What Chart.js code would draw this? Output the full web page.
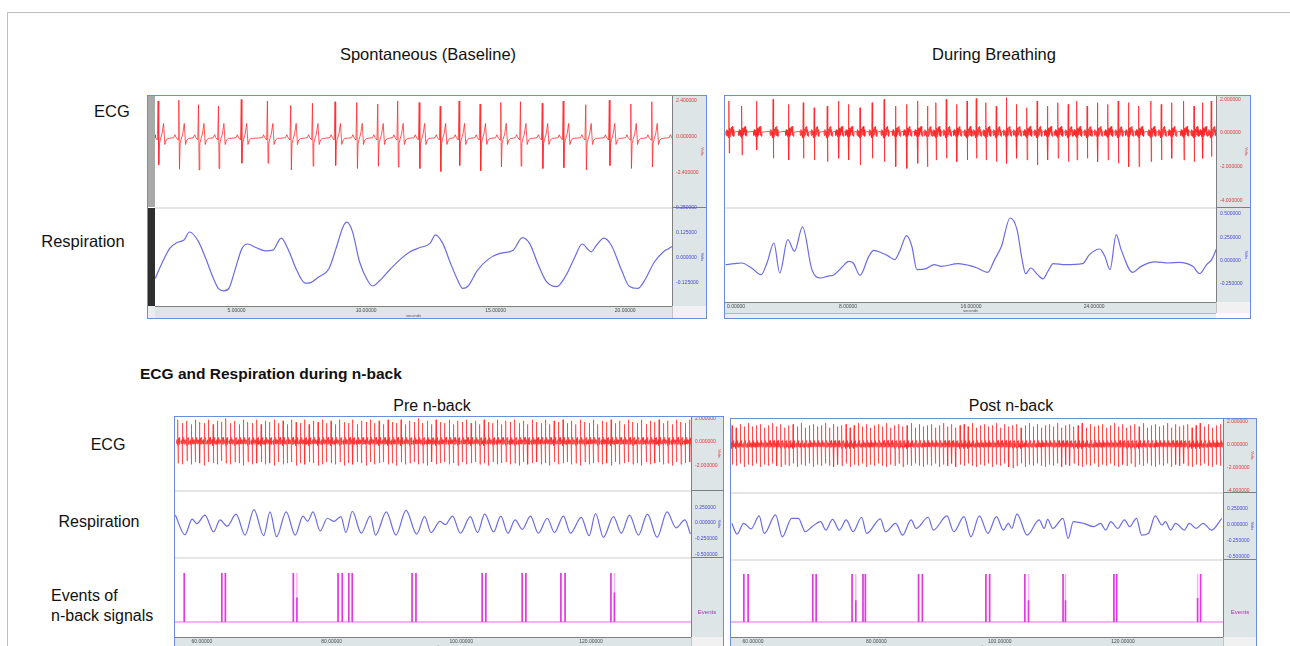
<!DOCTYPE html>
<html><head><meta charset="utf-8">
<script src="https://cdn.jsdelivr.net/npm/chart.js@4.4.1/dist/chart.umd.min.js"></script>
<style>
html,body{margin:0;padding:0}
body{width:1290px;height:646px;overflow:hidden;background:#fff;position:relative;font-family:"Liberation Sans",Arial,sans-serif;color:#111}
.t{position:absolute;white-space:nowrap;line-height:1;font-size:16.5px}
.c{transform:translate(-50%,-50%)}
.l{transform:translate(0,-50%)}
</style></head><body>
<script>
// ================= DATA =================
// --- Spontaneous (Baseline) ---
const spontXTicks=[5,10,15,20];
const spontXLabels=['5.00000','10.00000','15.00000','20.00000'];
const spontEcgTicks=[2.4,0,-2.4];
const spontEcgLabels=['2.400000','0.000000','-2.400000'];
const spontRespTicks=[0.25,0.125,0,-0.125];
const spontRespLabels=['0.250000','0.125000','0.000000','-0.125000'];
// beats: [time s, R amplitude, S amplitude]
const spontBeats=[[1.97,2.40,-1.85],[2.77,2.45,-2.15],[3.53,2.15,-2.20],[4.30,2.05,-2.10],[5.18,2.50,-1.75],[6.19,2.40,-1.75],[7.09,2.10,-2.20],[7.93,2.25,-1.95],[8.80,2.35,-1.90],[9.64,2.30,-2.10],[10.45,2.20,-1.95],[11.22,2.40,-2.00],[12.05,2.30,-2.10],[12.86,2.05,-2.30],[13.59,2.40,-1.90],[14.40,2.20,-2.25],[15.20,2.30,-2.00],[15.96,2.35,-1.95],[16.80,2.25,-2.10],[17.61,2.40,-2.05],[18.48,2.15,-2.20],[19.39,2.45,-1.90],[20.22,2.20,-2.10],[21.03,2.35,-2.00],[21.90,2.30,-2.00]];
const spontResp=[[1.86,-0.102],[2.14,-0.020],[2.42,0.048],[2.70,0.078],[2.97,0.090],[3.18,0.130],[3.53,0.082],[3.81,-0.003],[4.09,-0.097],[4.30,-0.153],[4.51,-0.164],[4.72,-0.148],[4.93,-0.063],[5.21,0.048],[5.42,0.070],[5.77,0.051],[6.12,0.036],[6.40,0.039],[6.72,0.099],[7.03,0.031],[7.30,-0.055],[7.65,-0.126],[7.86,-0.123],[8.14,-0.097],[8.56,-0.055],[8.84,0.048],[9.12,0.159],[9.26,0.179],[9.47,0.133],[9.75,-0.020],[10.03,-0.106],[10.24,-0.140],[10.52,-0.114],[10.94,-0.055],[11.35,-0.003],[11.70,0.031],[12.05,0.051],[12.47,0.073],[12.68,0.116],[12.96,0.073],[13.24,-0.020],[13.52,-0.106],[13.73,-0.152],[13.94,-0.140],[14.29,-0.063],[14.71,-0.007],[15.13,0.022],[15.68,0.039],[16.03,0.102],[16.31,0.073],[16.66,-0.038],[16.94,-0.114],[17.36,-0.143],[17.71,-0.089],[18.06,0.005],[18.34,0.070],[18.69,0.031],[18.90,0.065],[19.18,0.099],[19.46,0.065],[19.87,-0.063],[20.15,-0.140],[20.50,-0.152],[20.78,-0.106],[21.13,-0.020],[21.48,0.031],[21.69,0.048],[21.85,0.060]];

// --- During Breathing ---
const breathXTicks=[0,8,16,24];
const breathXLabels=['                0.00000','8.00000','16.00000','24.00000'];
const breathEcgTicks=[2,0,-2,-4];
const breathEcgLabels=['2.000000','0.000000','-2.000000','-4.000000'];
const breathRespTicks=[0.5,0.25,0,-0.25];
const breathRespLabels=['0.500000','0.250000','0.000000','-0.250000'];
const breathBeats=[[0.26,1.9,-1.2],[1.09,1.6,-1.3],[2.06,1.9,-1.0],[3.13,2.0,-1.5],[4.14,1.7,-1.6],[5.09,1.8,-1.5],[5.80,1.5,-1.6],[6.65,1.6,-1.7],[7.39,1.9,-1.5],[8.04,1.7,-1.6],[8.78,1.5,-1.9],[9.57,1.8,-1.5],[10.35,2.0,-1.7],[11.09,1.6,-2.0],[11.81,1.7,-2.1],[12.53,1.9,-1.8],[13.16,1.6,-2.0],[13.72,1.8,-1.6],[14.39,2.0,-1.5],[15.06,1.7,-1.7],[15.74,1.9,-1.6],[16.34,2.05,-1.5],[16.97,1.8,-1.6],[17.64,1.6,-1.7],[18.30,2.1,-1.8],[18.95,1.7,-1.5],[19.63,1.5,-1.6],[20.30,1.9,-1.9],[20.98,1.6,-1.6],[21.65,1.8,-1.5],[22.32,1.7,-1.7],[22.88,1.9,-1.6],[23.55,1.6,-1.5],[24.22,1.8,-1.7],[24.90,1.7,-1.6],[25.57,1.9,-1.8],[26.24,1.8,-2.0],[26.91,1.6,-2.0],[27.70,1.9,-1.7],[28.37,1.7,-1.6],[29.04,1.8,-1.5],[29.83,1.9,-1.6],[30.50,1.6,-1.7],[31.06,1.8,-1.5],[31.62,1.9,-1.4]];
const breathResp=[[0.04,-0.043],[0.60,-0.032],[1.09,-0.025],[1.72,-0.079],[2.35,-0.150],[2.73,-0.025],[3.18,0.189],[3.56,-0.132],[4.08,0.225],[4.52,0.100],[5.04,0.361],[5.65,-0.096],[6.21,-0.186],[6.65,-0.168],[7.10,-0.150],[7.66,-0.061],[8.04,-0.007],[8.34,-0.025],[8.78,-0.157],[9.35,0.046],[9.68,0.111],[10.20,0.082],[10.58,0.054],[11.03,0.011],[11.36,0.100],[11.81,0.268],[12.15,0.154],[12.48,-0.096],[13.04,-0.089],[13.61,-0.043],[14.05,-0.061],[15.17,-0.032],[15.85,-0.050],[16.41,-0.079],[17.08,-0.125],[17.53,0.011],[17.98,0.154],[18.54,0.457],[18.99,0.332],[19.32,0.011],[19.55,-0.139],[19.88,-0.079],[20.33,-0.150],[20.67,-0.196],[21.00,-0.114],[21.34,-0.032],[22.13,-0.043],[23.25,-0.032],[23.70,0.064],[24.37,0.125],[24.70,0.046],[25.04,-0.096],[25.44,0.279],[25.76,0.118],[26.50,-0.125],[27.06,-0.061],[27.96,-0.014],[28.85,-0.025],[29.52,-0.018],[30.42,-0.061],[30.87,-0.139],[31.32,-0.043],[31.65,0.011],[31.99,0.136]];

// --- n-back (Pre / Post) ---
const nbXTicks=[60,80,100,120];
const nbXLabels=['60.00000','80.00000','100.00000','120.00000'];
const nbEcgTicksPre=[2,0,-2];
const nbEcgLabelsPre=['2.000000','0.000000','-2.000000'];
const nbEcgTicksPost=[2,0,-2,-4];
const nbEcgLabelsPost=['2.000000','0.000000','-2.000000','-4.000000'];
const nbRespTicks=[0.25,0,-0.25,-0.5];
const nbRespLabels=['0.250000','0.000000','-0.250000','-0.500000'];
const preBeats=[[56.30,1.9,-1.8],[57.00,1.6,-1.9],[57.68,1.8,-1.6],[58.35,1.5,-1.9],[59.00,1.9,-1.7],[59.66,1.7,-1.8],[60.34,1.6,-2.0],[61.03,1.9,-1.7],[61.72,1.5,-1.8],[62.38,1.8,-1.9],[63.03,1.7,-1.6],[63.70,2.0,-1.8],[64.40,1.6,-1.9],[65.08,1.8,-1.7],[65.74,1.5,-1.8],[66.40,1.9,-2.0],[67.08,1.7,-1.7],[67.78,1.6,-1.9],[68.46,1.9,-1.8],[69.12,1.5,-1.7],[69.78,1.8,-1.9],[70.46,1.7,-1.8],[71.15,1.9,-2.0],[71.83,1.6,-1.7],[72.50,1.8,-1.9],[73.15,1.5,-1.8],[73.83,1.9,-1.7],[74.52,1.7,-2.0],[75.20,1.6,-1.8],[75.86,1.9,-1.9],[76.52,1.5,-1.7],[77.20,1.8,-1.8],[77.90,1.7,-2.0],[78.58,1.9,-1.9],[79.24,1.6,-1.7],[79.90,1.8,-1.8],[80.58,1.5,-1.9],[81.27,1.9,-1.7],[81.95,1.7,-2.0],[82.62,1.6,-1.8],[83.27,1.9,-1.9],[83.95,1.5,-1.7],[84.64,1.8,-1.8],[85.32,1.7,-2.0],[85.98,1.9,-1.7],[86.64,1.6,-1.9],[87.32,1.8,-1.8],[88.02,1.5,-1.7],[88.70,1.9,-1.9],[89.36,1.7,-1.8],[90.02,1.6,-2.0],[90.70,1.9,-1.7],[91.39,1.5,-1.9],[92.07,1.8,-1.8],[92.74,1.7,-1.7],[93.39,2.0,-1.9],[94.07,1.6,-1.8],[94.76,1.8,-2.0],[95.44,1.5,-1.7],[96.10,1.9,-1.9],[96.76,1.7,-1.8],[97.44,1.6,-1.7],[98.14,1.9,-1.9],[98.82,1.5,-1.8],[99.48,1.8,-2.0],[100.14,1.7,-1.7],[100.82,1.9,-1.9],[101.51,1.6,-1.8],[102.19,1.8,-1.7],[102.86,1.5,-1.9],[103.51,1.9,-1.8],[104.19,1.7,-2.0],[104.88,1.6,-1.7],[105.56,1.9,-1.9],[106.22,1.5,-1.8],[106.88,1.8,-1.7],[107.56,1.7,-1.9],[108.26,1.9,-1.8],[108.94,1.6,-2.0],[109.60,1.8,-1.7],[110.26,1.5,-1.9],[110.94,1.9,-1.8],[111.63,1.7,-1.7],[112.31,1.6,-1.9],[112.98,1.9,-1.8],[113.63,1.5,-2.0],[114.31,1.8,-1.7],[115.00,1.7,-1.9],[115.68,1.9,-1.8],[116.34,1.6,-1.7],[117.00,1.8,-1.9],[117.68,1.5,-1.8],[118.38,1.9,-2.0],[119.06,1.7,-1.7],[119.72,1.6,-1.9],[120.38,1.9,-1.8],[121.06,1.5,-1.7],[121.75,1.8,-1.9],[122.43,1.7,-1.8],[123.10,1.9,-2.0],[123.75,1.6,-1.7],[124.43,1.8,-1.9],[125.12,1.5,-1.8],[125.80,1.9,-1.7],[126.46,1.7,-1.9],[127.12,1.6,-1.8],[127.80,1.9,-2.0],[128.50,1.5,-1.7],[129.18,1.8,-1.9],[129.84,1.7,-1.8],[130.50,1.9,-1.7],[131.18,1.6,-1.9],[131.87,1.8,-1.8],[132.55,1.5,-2.0],[133.22,1.9,-1.7],[133.87,1.7,-1.9],[134.55,1.6,-1.8],[135.24,1.9,-1.7]];
const postBeats=[[56.60,1.7,-1.7],[57.26,1.5,-1.8],[57.91,1.8,-1.6],[58.57,1.6,-1.9],[59.24,1.9,-1.7],[59.90,1.6,-1.8],[60.55,1.7,-1.6],[61.21,1.8,-1.9],[61.88,1.5,-1.7],[62.54,1.7,-1.8],[63.19,1.9,-1.6],[63.85,1.6,-1.8],[64.52,1.8,-1.9],[65.18,1.5,-1.7],[65.83,1.7,-1.8],[66.49,1.8,-1.6],[67.16,1.6,-1.9],[67.82,1.9,-1.7],[68.47,1.5,-1.8],[69.13,1.7,-1.6],[69.80,1.8,-1.9],[70.46,1.6,-1.7],[71.11,1.7,-1.8],[71.77,1.9,-1.6],[72.44,1.5,-1.8],[73.10,1.8,-1.9],[73.75,1.6,-1.7],[74.41,1.7,-1.8],[75.08,1.8,-1.6],[75.74,1.5,-1.9],[76.39,1.7,-1.7],[77.05,1.9,-1.8],[77.72,1.6,-1.6],[78.38,1.8,-1.9],[79.03,1.5,-1.7],[79.69,1.7,-1.8],[80.36,1.8,-1.6],[81.02,1.6,-1.8],[81.67,1.9,-1.9],[82.33,1.5,-1.7],[83.00,1.7,-1.8],[83.66,1.8,-1.6],[84.31,1.6,-1.9],[84.97,1.7,-1.7],[85.64,1.9,-1.8],[86.30,1.5,-1.6],[86.95,1.8,-1.8],[87.61,1.6,-1.9],[88.28,1.7,-1.7],[88.94,1.8,-1.8],[89.59,1.5,-1.6],[90.25,1.7,-1.9],[90.92,1.9,-1.7],[91.58,1.6,-1.8],[92.23,1.8,-1.6],[92.89,1.5,-1.9],[93.56,1.7,-1.7],[94.22,1.8,-1.8],[94.87,1.6,-1.6],[95.53,1.9,-1.8],[96.20,1.5,-1.9],[96.86,1.7,-1.7],[97.51,1.8,-1.8],[98.17,1.6,-1.6],[98.84,1.7,-1.9],[99.50,1.9,-1.7],[100.15,1.5,-1.8],[100.81,1.8,-1.6],[101.48,1.6,-1.9],[102.14,1.7,-2.0],[102.79,1.8,-1.8],[103.45,1.5,-1.6],[104.12,1.7,-1.9],[104.78,1.9,-1.7],[105.43,1.6,-1.8],[106.09,1.8,-1.6],[106.76,1.5,-1.8],[107.42,1.7,-1.9],[108.07,1.8,-1.7],[108.73,1.6,-1.8],[109.40,1.9,-1.6],[110.06,1.5,-1.9],[110.71,1.7,-1.7],[111.37,1.8,-1.8],[112.04,1.6,-1.6],[112.70,1.7,-1.8],[113.35,1.9,-1.9],[114.01,1.5,-1.7],[114.68,1.8,-1.8],[115.34,1.6,-1.6],[115.99,1.7,-1.9],[116.65,1.8,-1.7],[117.32,1.5,-1.8],[117.98,1.7,-1.6],[118.63,1.9,-1.8],[119.29,1.6,-1.9],[119.96,1.8,-1.7],[120.62,1.5,-1.8],[121.27,1.7,-1.6],[121.93,1.8,-1.9],[122.60,1.6,-1.7],[123.26,1.9,-1.8],[123.91,1.5,-1.6],[124.57,1.7,-1.8],[125.24,1.8,-1.9],[125.90,1.6,-1.7],[126.55,1.7,-1.8],[127.21,1.9,-1.6],[127.88,1.5,-1.9],[128.54,1.8,-1.7],[129.19,1.6,-1.8],[129.85,1.7,-1.6],[130.52,1.8,-1.8],[131.18,1.5,-1.9],[131.83,1.7,-1.7],[132.49,1.9,-1.8],[133.16,1.6,-1.6],[133.82,1.8,-1.8],[134.47,1.5,-1.9],[135.13,1.7,-1.7],[135.80,1.8,-1.8]];
const preResp=[[55.89,0.125],[57.38,-0.185],[58.48,0.06],[59.20,-0.01],[60.46,0.125],[61.79,-0.14],[62.78,0.05],[63.89,-0.05],[65.26,0.14],[66.64,-0.19],[68.02,0.21],[69.51,-0.2],[70.50,0.175],[71.50,-0.215],[72.99,0.175],[74.37,-0.19],[75.58,0.11],[76.30,0.025],[77.12,0.175],[78.23,-0.125],[79.33,0.075],[80.32,0.025],[81.43,0.1],[82.20,-0.15],[83.19,0.185],[84.57,-0.16],[85.95,0.11],[86.78,-0.19],[88.43,0.175],[89.92,-0.19],[91.47,0.2],[93.12,-0.175],[94.33,0.1],[95.33,-0.15],[96.70,0.025],[97.53,-0.025],[98.64,0.11],[99.85,-0.16],[101.39,0.1],[102.50,-0.15],[103.60,0.14],[104.98,-0.14],[106.08,0.11],[107.19,-0.16],[108.29,0.05],[109.39,-0.1],[110.66,0.11],[111.87,-0.16],[113.25,0.075],[114.36,-0.15],[115.74,0.11],[116.84,-0.16],[118.49,0.09],[119.71,-0.2],[120.70,0.15],[121.91,-0.225],[123.46,0.1],[124.67,-0.16],[125.94,0.125],[127.32,-0.19],[128.70,0.14],[130.19,-0.225],[131.73,0.175],[133.11,-0.075],[134.49,0.05],[135.32,-0.175]];
const postResp=[[56.57,0.026],[57.40,-0.142],[58.50,0.026],[59.70,-0.06],[60.99,0.142],[61.82,-0.132],[63.65,0.158],[64.76,-0.184],[66.25,0.105],[67.36,0.105],[68.47,-0.105],[69.57,-0.026],[70.96,0.053],[71.79,-0.079],[72.90,0.089],[74.00,-0.079],[75.11,0.079],[76.22,-0.105],[77.60,0.121],[78.43,-0.132],[80.65,0.095],[81.48,-0.105],[83.14,0.026],[84.25,-0.158],[85.63,0.079],[86.46,-0.053],[88.40,0.121],[89.23,-0.079],[91.44,0.142],[92.55,-0.105],[94.21,0.132],[95.32,-0.184],[96.70,0.142],[98.08,-0.132],[99.47,0.132],[100.58,-0.079],[101.41,0.026],[101.96,-0.053],[102.79,0.174],[104.45,-0.158],[106.39,0.079],[107.22,-0.053],[107.77,0.089],[108.60,-0.053],[110.26,0.105],[111.09,-0.21],[111.93,0.053],[113.59,0.026],[115.25,-0.026],[116.35,0.026],[117.18,-0.079],[118.01,0.053],[119.12,-0.053],[120.23,0.079],[121.06,-0.026],[122.17,0.105],[123.00,-0.158],[124.11,-0.132],[125.21,0.142],[126.32,0],[126.87,0.053],[127.70,-0.079],[128.53,0.026],[129.92,-0.079],[130.75,0.026],[131.85,-0.053],[132.96,0.026],[134.34,-0.079],[136.01,0.105]];
// events: [time s, level]
const preEvents=[[57.27,1],[63.06,1],[63.61,1],[74.09,1],[74.64,0.5],[80.99,1],[81.64,1],[82.64,1],[83.18,1],[92.40,1],[93.00,1],[103.21,1],[103.77,1],[109.39,1],[109.95,1],[115.35,1],[116.00,1],[123.07,1],[123.61,0.6]];
const postEvents=[[58.51,1],[59.22,1],[69.68,1],[70.24,1],[76.06,1],[76.66,0.45],[77.83,1],[78.22,1],[86.84,1],[87.46,1],[97.76,1],[98.36,1],[104.07,1],[104.67,0.45],[110.27,1],[110.66,0.45],[118.51,1],[118.96,1],[132.08,0.5],[132.57,1]];
// ECG beat shapes: [offset from R (s), value]  ('R'/'S' = per-beat amplitude)
const tplSlow=[[-0.20,-0.05],[-0.15,0.15],[-0.10,-0.05],[-0.03,-0.2],[0,'R'],[0.025,'S'],[0.05,-0.45],[0.09,-0.15],[0.15,0.2],[0.21,0.9],[0.26,-0.5],[0.31,-0.2],[0.38,-0.1]];
const tplFast=[[-0.22,0.10],[-0.19,-0.15],[-0.16,0.20],[-0.13,-0.10],[-0.10,0.15],[-0.07,-0.20],[-0.04,0.10],[-0.02,-0.30],[0,'R'],[0.02,'S'],[0.04,0.30],[0.07,-0.20],[0.10,0.25],[0.13,-0.10],[0.16,0.35],[0.19,0.05],[0.22,0.40],[0.25,-0.15],[0.28,0.20],[0.31,-0.20],[0.34,0.05]];
// axis ranges [min,max]
const spontX=[1.85,21.81], spontEcgY=[-4.667,2.733], spontRespY=[-0.24,0.25];
const breathX=[0,31.93], breathEcgY=[-4.392,2.196], breathRespY=[-0.443,0.564];
const preX=[55.84,135.42], preEcgY=[-4.085,2.128], preRespY=[-0.535,0.504], preEvY=[-0.306,1.306];
const postX=[56.43,136.2], postEcgY=[-4.087,2.26], postRespY=[-0.531,0.5], postEvY=[-0.3125,1.29];

// ================= BUILD =================
const FONT='"Liberation Sans", Arial, sans-serif';
const RED='rgba(255,40,40,0.78)', BLUE='#6b6be6', MAG='#e03ae0', PINK='#f6b4f6';
function rect(l,t,w,h,css){const d=document.createElement('div');d.style.cssText=`position:absolute;left:${l}px;top:${t}px;width:${w}px;height:${h}px;box-sizing:border-box;${css||''}`;document.body.appendChild(d);return d;}
function text(s,x,y,cls,css){const d=document.createElement('div');d.className='t '+cls;d.textContent=s;d.style.left=x+'px';d.style.top=y+'px';if(css)d.style.cssText+=css;document.body.appendChild(d);return d;}
function ecgSeries(beats,tpl){const out=[];beats.forEach(([t,r,s])=>tpl.forEach(([dt,v])=>out.push({x:+(t+dt).toFixed(3),y:v==='R'?r:(v==='S'?s:v)})));return out;}
function pairSeries(p){return p.map(([x,y])=>({x,y}));}
function eventSeries(ev,full){const out=[];ev.forEach(([t,l])=>{out.push({x:t,y:0},{x:t,y:full?1:l},{x:t,y:null});});return out;}

function makeChart(o){
  const W=o.plotW+o.axisW;
  const padT=5, padB=o.xbarH?0:5;
  const H=padT+o.rowH+(o.xbarH||0)+padB;
  const c=document.createElement('canvas');
  c.width=W;c.height=H;
  c.style.cssText=`position:absolute;left:${o.left}px;top:${o.top-padT}px;width:${W}px;height:${H}px;z-index:5`;
  document.body.appendChild(c);
  return new Chart(c.getContext('2d'),{
    type:'line',
    data:{datasets:o.datasets},
    options:{
      responsive:false,maintainAspectRatio:false,animation:false,devicePixelRatio:1,parsing:false,
      layout:{padding:{top:padT,bottom:padB,left:0,right:0}},
      plugins:{legend:{display:false},tooltip:{enabled:false},title:{display:false}},
      elements:{point:{radius:0,hitRadius:0,hoverRadius:0}},
      events:[],
      scales:{
        x:{type:'linear',min:o.x[0],max:o.x[1],bounds:'data',display:!!o.xbarH,position:'bottom',
          grid:{display:false,drawTicks:false},border:{display:false},
          afterFit:s=>{s.height=o.xbarH||0;s.paddingLeft=0;s.paddingRight=0;s.paddingTop=0;s.paddingBottom=0;},
          afterBuildTicks:s=>{s.ticks=(o.xTicks||[]).map(v=>({value:v}));},
          ticks:{autoSkip:false,maxRotation:0,minRotation:0,padding:2,color:'#4a4a4a',font:{size:5,family:FONT},callback:(v,i)=>o.xLabels?o.xLabels[i]:''},
          title:{display:!!o.xbarH,text:'seconds',color:'#555',font:{size:4,family:FONT},padding:{top:0,bottom:0}}},
        y:{type:'linear',min:o.y[0],max:o.y[1],bounds:'data',position:'right',
          grid:{display:false,drawTicks:false},border:{display:false},
          afterFit:s=>{s.width=o.axisW;s.paddingTop=0;s.paddingBottom=0;s.paddingLeft=0;s.paddingRight=0;},
          afterBuildTicks:s=>{s.ticks=(o.yTicks||[]).map(v=>({value:v}));},
          ticks:{display:!!(o.yTicks&&o.yTicks.length),autoSkip:false,padding:4,color:o.yColor||'#333',font:{size:5,family:FONT},callback:(v,i)=>o.yLabels?o.yLabels[i]:''},
          title:{display:!!o.yTitle,text:o.yTitle||'',color:o.yColor||'#333',font:{size:4,family:FONT},padding:1}}
      }
    }
  });
}
function lineDS(data,color,w,smooth,order){return {data,borderColor:color,borderWidth:w,pointRadius:0,fill:false,tension:0,cubicInterpolationMode:smooth?'monotone':'default',spanGaps:false,order:order||0};}

// page frame
rect(7,12,1300,650,'border:1px solid #bdbdbd');

// panel frame helper
function frame(p){
  p.rows.forEach((r,i)=>{
    rect(p.plotR,r[0],p.axisR-p.plotR,r[1]-r[0]+1,'background:#dde5e6;border-left:1px solid #7f7f7f;border-bottom:1px solid #7f7f7f');
    if(i<p.rows.length-1) rect(p.plotL,r[1],p.plotR-p.plotL,2,'background:#e6e6e6');
  });
  rect(p.plotL,p.xbar[0],p.plotR-p.plotL,p.xbar[1]-p.xbar[0],'background:#dde5e6;border-top:1px solid #7f7f7f');
  rect(p.plotR,p.xbar[0],p.axisR-p.plotR,p.xbar[1]-p.xbar[0],'background:#f1f1f1;border-left:1px solid #c4c4c4');
  rect(p.L,p.T,p.R-p.L,p.B-p.T,'border:1.5px solid #6b8ed8;z-index:10');
}
// events datasets: magenta level lines on top (order 0), pale full lines and baseline below
function eventDatasets(ev,range){
  return [lineDS(eventSeries(ev,false),MAG,1.6,false,0),
          lineDS(eventSeries(ev,true),PINK,1.5,false,1),
          lineDS([{x:range[0],y:0},{x:range[1],y:0}],PINK,2,false,2)];
}

// ---- Panel A: Spontaneous ----
frame({L:147,T:95,R:707,B:319,plotL:155,plotR:672,axisR:706,rows:[[96,207],[208,306]],xbar:[306,318]});
rect(148,96,7,111,'background:#a9a9a9');
rect(148,208,7,98,'background:#2e2e2e');
rect(148,306,7,12,'background:#e9eded');
makeChart({left:155,top:96,plotW:517,axisW:34,rowH:111,x:spontX,y:spontEcgY,yTicks:spontEcgTicks,yLabels:spontEcgLabels,yColor:'#e23a3a',yTitle:'Volts',
  datasets:[lineDS(ecgSeries(spontBeats,tplSlow),RED,1,false)]});
makeChart({left:155,top:208,plotW:517,axisW:34,rowH:98,xbarH:12,x:spontX,y:spontRespY,yTicks:spontRespTicks,yLabels:spontRespLabels,yColor:'#4747e0',yTitle:'Volts',
  xTicks:spontXTicks,xLabels:spontXLabels,datasets:[lineDS(pairSeries(spontResp),BLUE,1.2,true)]});

// ---- Panel B: During Breathing ----
frame({L:724,T:95,R:1251,B:319,plotL:725,plotR:1216,axisR:1250,rows:[[96,207],[208,302]],xbar:[302,313]});
rect(725,313,491,5,'background:#e9eded;border-top:1px solid #b5b5b5');
makeChart({left:725,top:96,plotW:491,axisW:34,rowH:111,x:breathX,y:breathEcgY,yTicks:breathEcgTicks,yLabels:breathEcgLabels,yColor:'#e23a3a',yTitle:'Volts',
  datasets:[lineDS(ecgSeries(breathBeats,tplFast),RED,1,false)]});
makeChart({left:725,top:208,plotW:491,axisW:34,rowH:94,xbarH:11,x:breathX,y:breathRespY,yTicks:breathRespTicks,yLabels:breathRespLabels,yColor:'#4747e0',yTitle:'Volts',
  xTicks:breathXTicks,xLabels:breathXLabels,datasets:[lineDS(pairSeries(breathResp),BLUE,1.2,true)]});

// ---- Panel C: Pre n-back ----
frame({L:174,T:416,R:724,B:680,plotL:175,plotR:691,axisR:723,rows:[[417,490],[491,557],[558,637]],xbar:[637,660]});
makeChart({left:175,top:417,plotW:516,axisW:32,rowH:73,x:preX,y:preEcgY,yTicks:nbEcgTicksPre,yLabels:nbEcgLabelsPre,yColor:'#e23a3a',yTitle:'Volts',
  datasets:[lineDS(ecgSeries(preBeats,tplFast),RED,0.8,false)]});
makeChart({left:175,top:491,plotW:516,axisW:32,rowH:66,x:preX,y:preRespY,yTicks:nbRespTicks,yLabels:nbRespLabels,yColor:'#4747e0',yTitle:'Volts',
  datasets:[lineDS(pairSeries(preResp),BLUE,1.2,true)]});
makeChart({left:175,top:558,plotW:516,axisW:32,rowH:79,xbarH:12,x:preX,y:preEvY,xTicks:nbXTicks,xLabels:nbXLabels,
  datasets:eventDatasets(preEvents,preX)});
text('Events',707,612,'c','font-size:6px;color:#b02cb0;z-index:11');

// ---- Panel D: Post n-back ----
frame({L:730,T:418,R:1257,B:680,plotL:731,plotR:1223,axisR:1256,rows:[[419,492],[493,559],[560,637]],xbar:[637,660]});
makeChart({left:731,top:419,plotW:492,axisW:33,rowH:73,x:postX,y:postEcgY,yTicks:nbEcgTicksPost,yLabels:nbEcgLabelsPost,yColor:'#e23a3a',yTitle:'Volts',
  datasets:[lineDS(ecgSeries(postBeats,tplFast),RED,0.8,false)]});
makeChart({left:731,top:493,plotW:492,axisW:33,rowH:66,x:postX,y:postRespY,yTicks:nbRespTicks,yLabels:nbRespLabels,yColor:'#4747e0',yTitle:'Volts',
  datasets:[lineDS(pairSeries(postResp),BLUE,1.2,true)]});
makeChart({left:731,top:560,plotW:492,axisW:33,rowH:77,xbarH:12,x:postX,y:postEvY,xTicks:nbXTicks,xLabels:nbXLabels,
  datasets:eventDatasets(postEvents,postX)});
text('Events',1240,612,'c','font-size:6px;color:#b02cb0;z-index:11');

// ---- Text labels ----
text('Spontaneous (Baseline)',428,54,'c');
text('During Breathing',994,54,'c');
text('ECG',112,111,'c');
text('Respiration',83,241,'c');
text('ECG and Respiration during n-back',140,374,'l','font-weight:bold;font-size:15.5px');
text('Pre n-back',432,406,'c','font-size:16px');
text('Post n-back',1011,406,'c','font-size:16px');
text('ECG',108,445,'c','font-size:16px');
text('Respiration',99,522,'c','font-size:16px');
text('Events of',51,596,'l','font-size:16px');
text('n-back signals',51,616,'l','font-size:16px');
</script>
</body></html>
